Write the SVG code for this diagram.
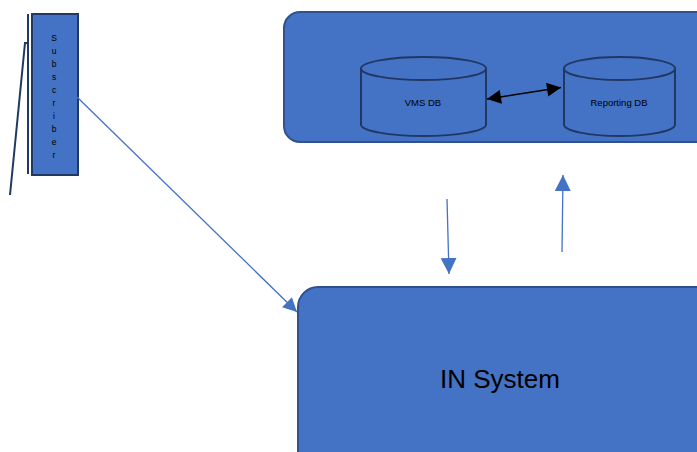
<svg xmlns="http://www.w3.org/2000/svg" width="697" height="452" viewBox="0 0 697 452">
  <style>
    .box { fill: #4472C4; stroke: #2F528F; stroke-width: 2; }
    .db { fill: #4472C4; stroke: #203864; stroke-width: 2; }
    .lbl { font-family: "Liberation Sans", Arial, sans-serif; fill: #000; text-anchor: middle; }
    .flow { stroke: #4472C4; stroke-width: 1.3; fill: none; }
  </style>
  <defs>
    <marker id="blueHead" viewBox="0 0 10 10" refX="10" refY="5" markerWidth="15" markerHeight="14" markerUnits="userSpaceOnUse" orient="auto">
      <path d="M0,0 L10,5 L0,10 Z" fill="#4472C4"/>
    </marker>
    <marker id="blueHeadBig" viewBox="0 0 10 10" refX="10" refY="5" markerWidth="16" markerHeight="16" markerUnits="userSpaceOnUse" orient="auto">
      <path d="M0,0 L10,5 L0,10 Z" fill="#4472C4"/>
    </marker>
    <marker id="blackHead" viewBox="0 0 10 10" refX="10" refY="5" markerWidth="15" markerHeight="14" markerUnits="userSpaceOnUse" orient="auto-start-reverse">
      <path d="M0,0 L10,5 L0,10 Z" fill="#000"/>
    </marker>
  </defs>

  <!-- Subscriber -->
  <g id="subscriber">
    <path d="M28,14 L28,174" stroke="#203864" stroke-width="2" fill="none"/>
    <path d="M28,43 L25,43 L10,195" stroke="#203864" stroke-width="2" fill="none"/>
    <rect x="32" y="14" width="46" height="161" fill="#4472C4" stroke="#203864" stroke-width="2"/>
    <g class="lbl" font-size="8.5">
      <text x="54" y="41">S</text>
      <text x="54" y="54">u</text>
      <text x="54" y="67">b</text>
      <text x="54" y="80">s</text>
      <text x="54" y="93">c</text>
      <text x="54" y="106">r</text>
      <text x="54" y="119">i</text>
      <text x="54" y="132">b</text>
      <text x="54" y="145">e</text>
      <text x="54" y="158">r</text>
    </g>
  </g>

  <!-- Database container -->
  <g id="db-container">
    <rect x="284" y="12" width="430" height="130" rx="16" class="box"/>
  </g>

  <g id="vms-db">
    <path d="M361,68.5 L361,124.5 A62.5,11.5 0 0 0 486,124.5 L486,68.5" class="db"/>
    <ellipse cx="423.5" cy="68.5" rx="62.5" ry="11.5" class="db"/>
    <text x="423" y="106" class="lbl" font-size="9.5">VMS DB</text>
  </g>

  <g id="reporting-db">
    <path d="M564,68.5 L564,124.5 A55.5,11.5 0 0 0 675,124.5 L675,68.5" class="db"/>
    <ellipse cx="619.5" cy="68.5" rx="55.5" ry="11.5" class="db"/>
    <text x="619" y="106" class="lbl" font-size="9.5">Reporting DB</text>
  </g>

  <!-- IN System -->
  <g id="in-system">
    <rect x="298" y="287" width="420" height="190" rx="20" class="box"/>
    <text x="500" y="388" class="lbl" font-size="26">IN System</text>
  </g>

  <!-- Connectors -->
  <g id="connectors">
    <line x1="487" y1="99" x2="561" y2="87.5" stroke="#000" stroke-width="1.5" marker-start="url(#blackHead)" marker-end="url(#blackHead)"/>
    <line x1="77" y1="97" x2="297" y2="312" class="flow" marker-end="url(#blueHead)"/>
    <line x1="447" y1="199" x2="449" y2="274" class="flow" marker-end="url(#blueHeadBig)"/>
    <line x1="562" y1="252" x2="563" y2="175" class="flow" marker-end="url(#blueHeadBig)"/>
  </g>
</svg>
